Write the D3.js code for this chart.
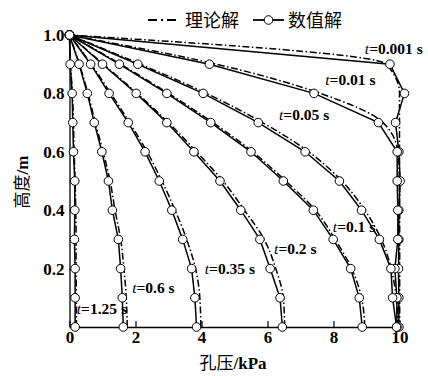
<!DOCTYPE html>
<html><head><meta charset="utf-8">
<script src="https://cdn.jsdelivr.net/npm/d3@7"></script>
<style>
html,body{margin:0;padding:0;background:#fff;}
svg{display:block;}
</style></head>
<body>
<svg id="chart" width="428" height="376"></svg>
<script>
// ---- data ----
const heights = [1.0, 0.9, 0.8, 0.7, 0.6, 0.5, 0.4, 0.3, 0.2, 0.1, 0.0];
const timeLabels = ["0.001", "0.01", "0.05", "0.1", "0.2", "0.35", "0.6", "1.25"];
// numerical solution (pore pressure, kPa) at each height
const num_t0001 = [0, 9.71, 10.15, 9.88, 9.98, 10.02, 9.98, 9.98, 9.97, 9.98, 9.98];
const num_t001  = [0, 4.24, 7.41, 9.36, 9.93, 9.93, 9.95, 9.95, 9.86, 9.92, 9.92];
const num_t005  = [0, 2.07, 4.05, 5.72, 7.14, 8.18, 8.85, 9.39, 9.74, 9.79, 9.91];
const num_t01   = [0, 1.51, 2.95, 4.28, 5.50, 6.48, 7.39, 7.99, 8.52, 8.78, 8.87];
const num_t02   = [0, 1.00, 2.02, 2.95, 3.77, 4.56, 5.19, 5.77, 6.08, 6.38, 6.45];
const num_t035  = [0, 0.64, 1.20, 1.78, 2.29, 2.72, 3.10, 3.43, 3.70, 3.80, 3.85];
const num_t06   = [0, 0.29, 0.54, 0.75, 0.98, 1.18, 1.30, 1.48, 1.55, 1.60, 1.63];
const num_t125  = [0, 0.02, 0.08, 0.10, 0.12, 0.16, 0.16, 0.15, 0.17, 0.17, 0.17];
// theoretical solution (kPa) at each height
const th_t0001 = [0, 9.60, 10.0, 10.0, 10.0, 10.0, 10.0, 10.0, 10.0, 10.0, 10.0];
const th_t001  = [0, 4.45, 7.60, 9.50, 9.95, 10.0, 10.0, 10.0, 10.0, 10.0, 10.0];
const th_t005  = [0, 2.15, 4.15, 5.85, 7.25, 8.25, 8.95, 9.45, 9.75, 9.90, 9.95];
const th_t01   = [0, 1.55, 3.00, 4.35, 5.55, 6.55, 7.45, 8.05, 8.55, 8.85, 8.95];
const th_t02   = [0, 1.03, 2.05, 3.00, 3.85, 4.65, 5.30, 5.90, 6.25, 6.48, 6.52];
const th_t035  = [0, 0.66, 1.25, 1.82, 2.35, 2.80, 3.20, 3.55, 3.82, 3.95, 3.98];
const th_t06   = [0, 0.30, 0.56, 0.78, 1.02, 1.23, 1.38, 1.55, 1.65, 1.72, 1.75];
const th_t125  = [0, 0.03, 0.09, 0.12, 0.14, 0.17, 0.19, 0.20, 0.20, 0.21, 0.21];
const xTicks = [0, 2, 4, 6, 8, 10];
const yTicks = [0.2, 0.4, 0.6, 0.8, 1.0];
// label anchor per time: [pressure kPa, height m]
const labelPos = [[8.95, 0.935], [7.75, 0.83], [6.35, 0.71], [7.98, 0.325], [6.2, 0.25], [4.1, 0.18], [1.9, 0.118], [0.22, 0.043]];

const numSeries = [num_t0001, num_t001, num_t005, num_t01, num_t02, num_t035, num_t06, num_t125];
const thSeries  = [th_t0001, th_t001, th_t005, th_t01, th_t02, th_t035, th_t06, th_t125];

// ---- chart ----
const svg = d3.select("#chart");
const x = d3.scaleLinear().domain([0, 10.1]).range([69.5, 402.8]);
const y = d3.scaleLinear().domain([0, 1]).range([327, 35]);
const numFont = "'Liberation Serif','Times New Roman',serif";
const cjkFont = "'Noto Sans CJK SC','Noto Sans CJK JP',sans-serif";

// curve labels (drawn under curves)
const lab = svg.append("g");
timeLabels.forEach((t, i) => {
  const tx = lab.append("text")
    .attr("x", x(labelPos[i][0])).attr("y", y(labelPos[i][1]))
    .attr("font-family", numFont).attr("font-size", 15.5).attr("font-weight", "bold");
  tx.append("tspan").attr("font-style", "italic").attr("font-weight", "normal").text("t");
  tx.append("tspan").text("=" + t + " s");
});

// axes
const xAxis = d3.axisBottom(x).tickValues(xTicks).tickSizeInner(-6).tickSizeOuter(0).tickPadding(4).tickFormat(d3.format("d"));
const yAxis = d3.axisLeft(y).tickValues(yTicks).tickSizeInner(-5).tickSizeOuter(0).tickPadding(5).tickFormat(d3.format(".1f"));
const gx = svg.append("g").attr("transform", `translate(0,${y(0)})`).call(xAxis);
const gy = svg.append("g").attr("transform", `translate(${x(0)},0)`).call(yAxis);
[gx, gy].forEach(g => {
  g.select(".domain").attr("stroke", "#000").attr("stroke-width", 1.3);
  g.selectAll(".tick line").attr("stroke", "#000").attr("stroke-width", 1.2);
  g.selectAll(".tick text").attr("font-family", numFont).attr("font-size", 17).attr("font-weight", "bold").attr("fill", "#000");
});

// theoretical curves
const thLine = d3.line().x(d => x(d[0])).y(d => y(d[1])).curve(d3.curveMonotoneY);
thSeries.forEach(s => {
  const pts = s.map((v, k) => [v, heights[k]]).reverse();
  svg.append("path").datum(pts).attr("d", thLine)
    .attr("fill", "none").attr("stroke", "#000").attr("stroke-width", 1.5)
    .attr("stroke-dasharray", "7,2.5,1.5,2.5");
});

// numerical curves
const numLine = d3.line().x(d => x(d[0])).y(d => y(d[1]));
numSeries.forEach(s => {
  const pts = s.map((v, k) => [v, heights[k]]);
  svg.append("path").datum(pts).attr("d", numLine)
    .attr("fill", "none").attr("stroke", "#000").attr("stroke-width", 1.5);
});
numSeries.forEach(s => {
  const pts = s.map((v, k) => [v, heights[k]]);
  svg.append("g").selectAll("circle").data(pts).join("circle")
    .attr("cx", d => x(d[0])).attr("cy", d => y(d[1])).attr("r", 4.3)
    .attr("fill", "#fff").attr("stroke", "#000").attr("stroke-width", 1);
});

// axis titles
const xt = svg.append("text").attr("x", 233).attr("y", 369).attr("text-anchor", "middle")
  .attr("font-size", 17);
xt.append("tspan").attr("font-family", cjkFont).text("孔压");
xt.append("tspan").attr("font-family", numFont).attr("font-weight", "bold").text("/kPa");
const yt = svg.append("text").attr("transform", "translate(28,182) rotate(-90)").attr("text-anchor", "middle")
  .attr("font-size", 17);
yt.append("tspan").attr("font-family", cjkFont).text("高度");
yt.append("tspan").attr("font-family", numFont).attr("font-weight", "bold").text("/m");

// legend
const lg = svg.append("g");
lg.append("line").attr("x1", 148).attr("x2", 180).attr("y1", 20).attr("y2", 20)
  .attr("stroke", "#000").attr("stroke-width", 1.8).attr("stroke-dasharray", "9,4,2,4");
lg.append("text").attr("x", 185).attr("y", 26.5).attr("font-family", cjkFont).attr("font-size", 18).text("理论解");
lg.append("line").attr("x1", 253).attr("x2", 284).attr("y1", 20).attr("y2", 20)
  .attr("stroke", "#000").attr("stroke-width", 1.8);
lg.append("circle").attr("cx", 268.5).attr("cy", 20).attr("r", 4.3).attr("fill", "#fff").attr("stroke", "#000").attr("stroke-width", 1);
lg.append("text").attr("x", 288).attr("y", 26.5).attr("font-family", cjkFont).attr("font-size", 18).text("数值解");
</script>
</body></html>
